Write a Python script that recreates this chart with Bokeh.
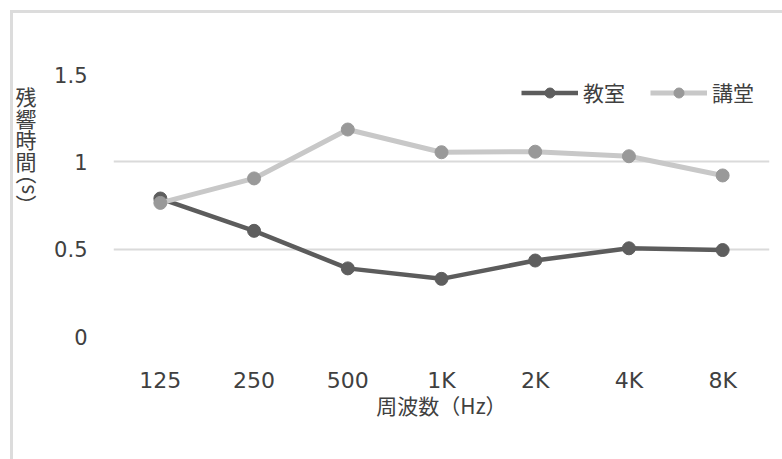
from bokeh.plotting import figure
from bokeh.models import (ColumnDataSource, FixedTicker, Legend, LegendItem,
                          LinearAxis, Range1d)
from bokeh.embed import file_html
from bokeh.resources import INLINE

# Reverberation time per octave band
bands = ["125", "250", "500", "1K", "2K", "4K", "8K"]
classroom = [0.79, 0.605, 0.39, 0.33, 0.435, 0.505, 0.495]   # 教室
hall = [0.765, 0.905, 1.185, 1.055, 1.058, 1.032, 0.922]     # 講堂
y_ticks = [0, 0.5, 1, 1.5]
y_tick_labels = ["0", "0.5", "1", "1.5"]
y_title_chars = ["残", "響", "時", "間"]
y_title_unit = "（s）"
x_title = "周波数（Hz）"

CJK = "Noto Sans CJK JP"
TXT = "#404040"
BORDER = "#dcdcdc"
W, H = 782, 459
LEFT, TOP, BOTTOM = 113, 74, 123
FRAME_H = H - TOP - BOTTOM

p = figure(width=W, height=H, x_range=bands, y_range=(0, 1.5),
           output_backend="svg", toolbar_location=None,
           min_border_left=LEFT, min_border_right=13,
           min_border_top=TOP, min_border_bottom=BOTTOM,
           background_fill_color="white", border_fill_alpha=0)
p.outline_line_color = None
p.x_range.range_padding = 0

# light chart-area border along the top and left edges
p.styles = {
    "background-color": "white",
    "background-image": f"linear-gradient({BORDER}, {BORDER}), linear-gradient({BORDER}, {BORDER})",
    "background-repeat": "no-repeat",
    "background-position": "10px 10px, 10px 10px",
    "background-size": "100% 3px, 3px 100%",
}

src = ColumnDataSource(dict(band=bands, classroom=classroom, hall=hall))

l1 = p.line("band", "classroom", source=src, line_color="#5c5c5c", line_width=4.5)
s1 = p.scatter("band", "classroom", source=src, size=13,
               fill_color="#5e5e5e", line_color="#5e5e5e")
l2 = p.line("band", "hall", source=src, line_color="#c8c8c8", line_width=5)
s2 = p.scatter("band", "hall", source=src, size=13,
               fill_color="#999999", line_color="#999999")


def plain(ax):
    ax.axis_line_color = None
    ax.major_tick_line_color = None
    ax.minor_tick_line_color = None
    ax.major_tick_out = 0
    ax.major_tick_in = 0
    ax.major_label_text_color = TXT


# axes
p.xgrid.grid_line_color = None
p.ygrid.grid_line_color = "#dadada"
p.ygrid.grid_line_width = 2
p.yaxis.ticker = FixedTicker(ticks=y_ticks)
p.yaxis.major_label_overrides = {t: s for t, s in zip(y_ticks, y_tick_labels)}
plain(p.xaxis[0])
plain(p.yaxis[0])
p.yaxis.major_label_text_font = "DejaVu Sans"
p.yaxis.major_label_text_font_size = "21px"
p.yaxis.major_label_standoff = 26
p.xaxis.major_label_text_font = "DejaVu Sans"
p.xaxis.major_label_text_font_size = "22px"
p.xaxis.major_label_standoff = 31
p.xaxis.axis_label = x_title
p.xaxis.axis_label_text_font = CJK
p.xaxis.axis_label_text_font_style = "normal"
p.xaxis.axis_label_text_font_size = "21px"
p.xaxis.axis_label_text_color = TXT
p.xaxis.axis_label_standoff = -6

# vertical y-axis title, laid out on a pixel-scaled helper range
p.extra_y_ranges = {"title": Range1d(0, FRAME_H)}
char_pos = [int(FRAME_H + TOP - y) for y in (95, 116.5, 138, 159.5)]
unit_pos = int(FRAME_H + TOP - 189)

kanji_axis = LinearAxis(y_range_name="title", ticker=FixedTicker(ticks=char_pos),
                        major_label_overrides=dict(zip(char_pos, y_title_chars)),
                        major_label_orientation="horizontal",
                        major_label_standoff=15,
                        major_label_text_font=CJK, major_label_text_font_size="21px")
plain(kanji_axis)
p.add_layout(kanji_axis, "left")

unit_axis = LinearAxis(y_range_name="title", ticker=FixedTicker(ticks=[unit_pos]),
                       major_label_overrides={unit_pos: y_title_unit},
                       major_label_orientation="vertical",
                       major_label_standoff=-27,
                       major_label_text_font=CJK, major_label_text_font_size="21px")
plain(unit_axis)
p.add_layout(unit_axis, "left")

legend = Legend(items=[LegendItem(label="教室", renderers=[l1, s1]),
                       LegendItem(label="講堂", renderers=[l2, s2])],
                orientation="horizontal", location=(408, 229),
                glyph_width=57, glyph_height=25, label_standoff=5, spacing=25,
                padding=0, margin=0, border_line_color=None,
                background_fill_alpha=0, label_text_font=CJK,
                label_text_font_size="21px", label_text_color=TXT)
p.add_layout(legend)

open("out.html", "w").write(file_html(p, INLINE))
